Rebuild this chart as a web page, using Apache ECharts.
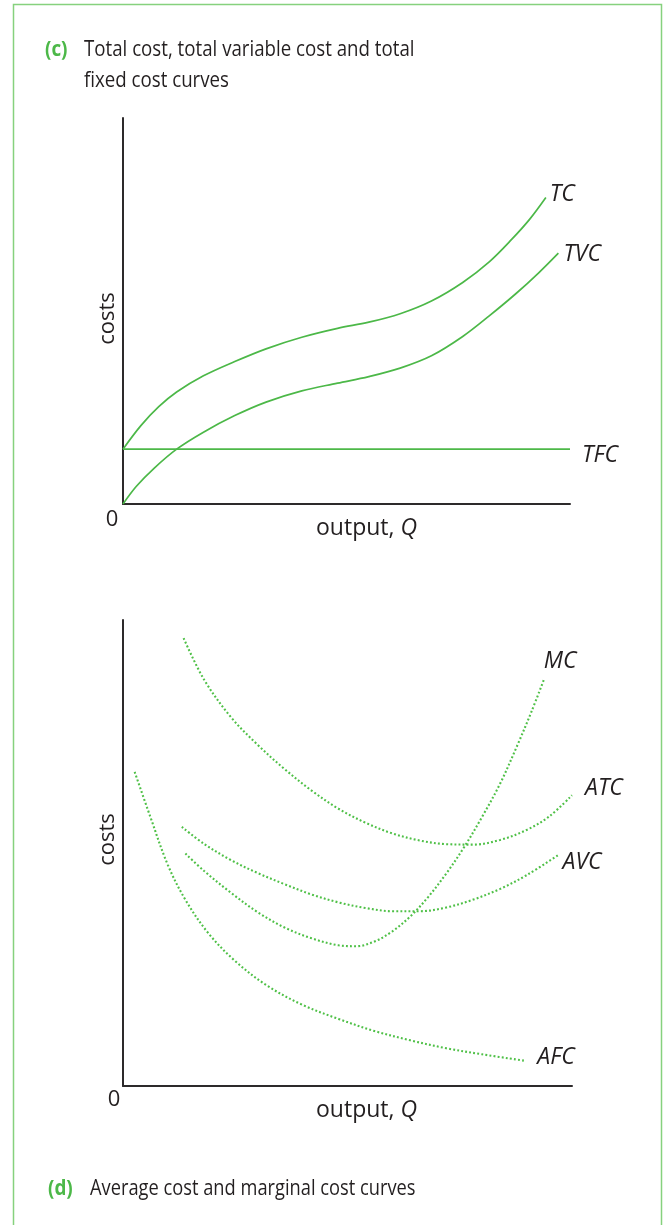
<!DOCTYPE html>
<html>
<head>
<meta charset="utf-8">
<script src="https://cdn.jsdelivr.net/npm/echarts@6/dist/echarts.min.js"></script>
<style>
html,body{margin:0;padding:0;background:#fff;}
#chart{width:667px;height:1225px;}
</style>
</head>
<body>
<div id="chart"></div>
<script>
// ---- Panel (c): total cost curves (output 0-100, costs 0-100) ----
const tcQ   = [0, 4, 8, 12, 18, 25, 32, 40, 48, 55, 62, 69, 76, 82, 87, 91, 94.6];
const tcC   = [14.2, 20.3, 25.2, 29.0, 33.2, 36.9, 40.2, 43.2, 45.5, 47.1, 49.3, 52.6, 57.4, 62.8, 68.6, 73.8, 79.4];
const tvcQ  = [0, 3, 7, 12, 18, 25, 32, 40, 48, 55, 62, 69, 76, 82, 88, 93, 97.4];
const tvcC  = [0, 4.6, 9.3, 14.2, 18.6, 22.9, 26.4, 29.3, 31.3, 33.0, 35.2, 38.4, 43.4, 48.8, 54.6, 59.9, 65.0];
const tfcQ  = [0, 100];
const tfcC  = [14.2, 14.2];

// ---- Panel (d): average and marginal cost curves ----
const atcQ = [13.5, 18, 24, 30, 36, 42, 48, 54, 60, 66, 72, 78, 84, 90, 95, 100];
const atcC = [96.1, 87.3, 79.2, 73.2, 68.0, 63.4, 59.5, 56.5, 54.2, 52.7, 51.9, 51.8, 52.8, 55.0, 57.9, 62.4];
const avcQ = [13.1, 18, 24, 30, 36, 42, 48, 54, 60, 66, 72, 78, 84, 90, 97];
const avcC = [55.6, 52.0, 48.5, 45.7, 43.3, 41.1, 39.4, 38.2, 37.5, 37.5, 38.3, 40.0, 42.3, 45.3, 49.6];
const mcQ  = [13.9, 18, 24, 30, 36, 42, 48, 52, 56, 60, 64, 68, 72, 76, 80, 84, 88, 91, 93.7];
const mcC  = [49.9, 46.2, 41.5, 37.3, 34.0, 31.7, 30.2, 30.0, 31.0, 33.2, 36.4, 40.6, 45.6, 51.3, 57.8, 64.9, 73.5, 80.4, 87.1];
const afcQ = [2.6, 6, 10, 14, 19, 25, 32, 40, 48, 56, 64, 72, 80, 89.6];
const afcC = [67.4, 58.0, 47.4, 39.8, 32.8, 26.8, 21.6, 17.4, 14.4, 11.8, 9.8, 8.1, 6.8, 5.4];

const titleC = ['(c)', 'Total cost, total variable cost and total', 'fixed cost curves'];
const titleD = ['(d)', 'Average cost and marginal cost curves'];
const axisX = 'output, ';
const axisXVar = 'Q';
const axisY = 'costs';

const GREEN = '#4cb848';
const DOT = '#4fc047';
const INK = '#231f20';
const FONT = "'Open Sans', 'DejaVu Sans', sans-serif";

const zip = (a, b) => a.map((v, i) => [v, b[i]]);

function curve(name, q, c, idx, dotted, lbl) {
  return {
    type: 'line', name: name, xAxisIndex: idx, yAxisIndex: idx,
    data: zip(q, c), smooth: 0.35, showSymbol: false, silent: true,
    lineStyle: dotted
      ? { color: DOT, width: 2.1, type: [1.9, 2.2], cap: 'butt' }
      : { color: GREEN, width: 1.7, type: 'solid' },
    endLabel: {
      show: true, formatter: name, fontFamily: FONT, fontStyle: 'italic', fontSize: 23,
      color: INK, distance: lbl[0], offset: [0, lbl[1]], align: 'left', verticalAlign: 'middle'
    },
    animation: false
  };
}

function axes(idx, shiftX, shiftY) {
  return {
    x: {
      gridIndex: idx, type: 'value', min: 0, max: 100,
      axisLine: { show: true, onZero: false, lineStyle: { color: '#2d2a2b', width: 2 } },
      axisTick: { show: false }, axisLabel: { show: false }, splitLine: { show: false },
      name: axisX + '{i|' + axisXVar + '}', nameLocation: 'middle', nameGap: 13,
      nameTextStyle: {
        fontFamily: FONT, fontSize: 23, color: INK, padding: [0, 0, 0, shiftX],
        rich: { i: { fontFamily: FONT, fontSize: 23, fontStyle: 'italic', color: INK } }
      }
    },
    y: {
      gridIndex: idx, type: 'value', min: 0, max: 100,
      axisLine: { show: true, onZero: false, lineStyle: { color: '#2d2a2b', width: 2 } },
      axisTick: { show: false }, axisLabel: { show: false }, splitLine: { show: false },
      name: axisY, nameLocation: 'middle', nameGap: 4, nameRotate: 90,
      nameTextStyle: { fontFamily: FONT, fontSize: 22, color: INK, padding: shiftY }
    }
  };
}

const a0 = axes(0, 40, [0, 15, 0, 0]);
const a1 = axes(1, 38, [0, 0, 0, 27]);

function txt(x, y, s, opt, sx) {
  return {
    type: 'text', x: x, y: y, silent: true, scaleX: sx || 1,
    style: Object.assign({
      text: s, fontFamily: FONT, fontSize: 21, fill: INK,
      textAlign: 'left', textVerticalAlign: 'middle', align: 'left', verticalAlign: 'middle'
    }, opt || {})
  };
}

const chart = echarts.init(document.getElementById('chart'), null, { renderer: 'canvas' });
chart.setOption({
  animation: false,
  backgroundColor: '#ffffff',
  grid: [
    { left: 123, top: 118, width: 447, height: 386 },
    { left: 123, top: 620, width: 449, height: 466 }
  ],
  xAxis: [a0.x, a1.x],
  yAxis: [a0.y, a1.y],
  series: [
    curve('TC', tcQ, tcC, 0, false, [4, -3]),
    curve('TVC', tvcQ, tvcC, 0, false, [5, 1]),
    curve('TFC', tfcQ, tfcC, 0, false, [12, 6]),
    curve('MC', mcQ, mcC, 1, true, [0, -19]),
    curve('ATC', atcQ, atcC, 1, true, [13, -7]),
    curve('AVC', avcQ, avcC, 1, true, [4, 8]),
    curve('AFC', afcQ, afcC, 1, true, [12, -3])
  ],
  graphic: [
    { type: 'rect', silent: true, shape: { x: 13.5, y: 4.5, width: 648, height: 1260 },
      style: { fill: 'none', stroke: '#86d17e', lineWidth: 1.5 } },
    txt(45, 50, titleC[0], { fill: GREEN, fontWeight: 'bold' }, 0.9),
    txt(84, 50, titleC[1], null, 0.89),
    txt(84, 81, titleC[2], null, 0.89),
    txt(48, 1189, titleD[0], { fill: GREEN, fontWeight: 'bold' }, 0.9),
    txt(90, 1189, titleD[1], null, 0.87),
    txt(112, 520, '0', { fontSize: 22, textAlign: 'center', align: 'center' }),
    txt(114, 1100, '0', { fontSize: 22, textAlign: 'center', align: 'center' })
  ]
});
</script>
</body>
</html>
